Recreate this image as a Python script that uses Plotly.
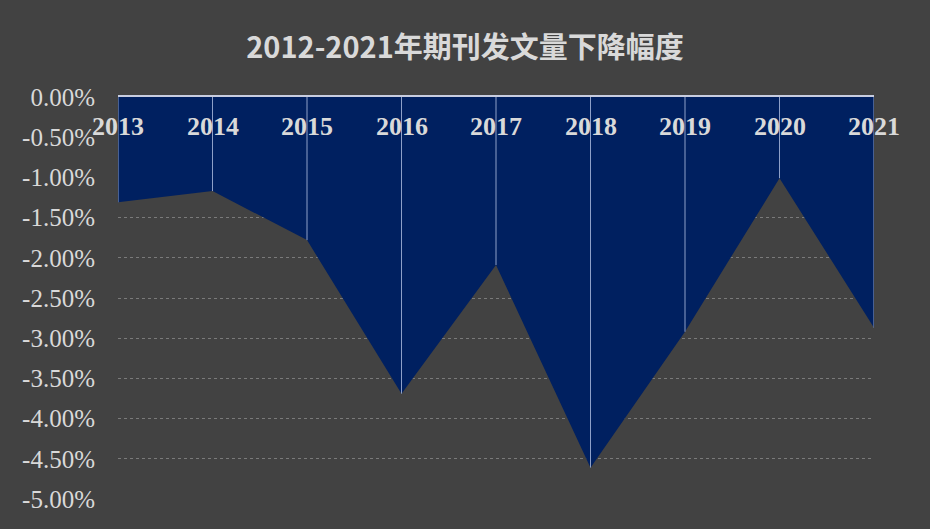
import plotly.graph_objects as go

years = ["2013", "2014", "2015", "2016", "2017", "2018", "2019", "2020", "2021"]
decline = [-1.31, -1.17, -1.78, -3.69, -2.09, -4.61, -2.92, -1.01, -2.87]
y_ticks = [0, -0.5, -1.0, -1.5, -2.0, -2.5, -3.0, -3.5, -4.0, -4.5, -5.0]
y_tick_text = ["%.2f%%" % v for v in y_ticks]
title = "2012-2021年期刊发文量下降幅度"

bg = "#424242"
txt = "#d9d9d9"
serif = "Liberation Serif, Times New Roman, serif"

fig = go.Figure()

# area between 0 and the values
fig.add_trace(go.Scatter(
    x=years, y=decline, mode="lines", fill="tozeroy",
    fillcolor="#002060", line=dict(width=0, color="#002060"),
    hoverinfo="x+y", showlegend=False,
))

# drop lines from the top edge down to each point
drop_x, drop_y = [], []
for yr, v in zip(years, decline):
    drop_x += [yr, yr, None]
    drop_y += [0, v, None]
fig.add_trace(go.Scatter(
    x=drop_x, y=drop_y, mode="lines",
    line=dict(width=1, color="#8ea0c8"),
    hoverinfo="skip", showlegend=False,
))

# category labels sit just under the zero line
# (numeric-looking category names would be read as numbers, so use the index)
for i, yr in enumerate(years):
    fig.add_annotation(
        x=i, y=0, xref="x", yref="y", text="<b>" + yr + "</b>", showarrow=False,
        yanchor="middle", yshift=-29,
        font=dict(family=serif, size=26, color=txt),
    )

fig.update_layout(
    width=930, height=529,
    paper_bgcolor=bg, plot_bgcolor=bg,
    margin=dict(l=118, r=56, t=97, b=30),
    title=dict(
        text="<b>" + title + "</b>", x=0.5, xanchor="center", y=0.91, yanchor="middle",
        font=dict(family="Noto Sans CJK SC, Noto Sans, sans-serif", size=29, color=txt),
    ),
    xaxis=dict(
        type="category", range=[0, len(years) - 1], showticklabels=False,
        showgrid=False, zeroline=False, showline=True, side="top",
        linecolor="#c8cde0", linewidth=2, ticks="",
    ),
    yaxis=dict(
        range=[-5, 0], tickvals=y_ticks, ticktext=y_tick_text,
        tickfont=dict(family=serif, size=25, color=txt),
        showgrid=True, gridcolor="#7a7a7a", griddash="dot", gridwidth=1,
        zeroline=False, showline=False, ticks="", ticklabelstandoff=22,
    ),
)

fig.write_html(
    "out.html",
    config={"displayModeBar": False},
    post_script="document.body.style.margin='0';",
)
